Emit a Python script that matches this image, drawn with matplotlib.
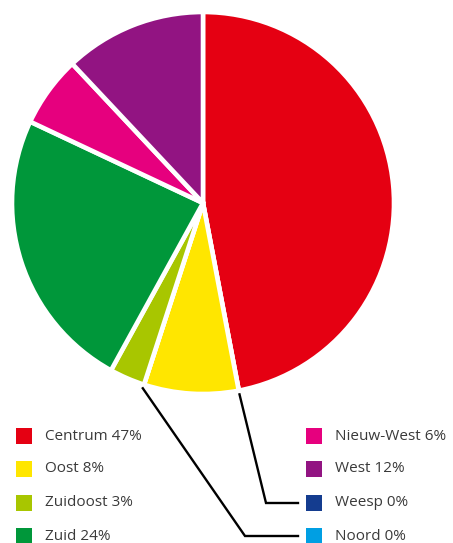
import numpy as np
import matplotlib
matplotlib.use("Agg")
from matplotlib import pyplot as plt
from matplotlib.patches import Rectangle

# data, pie order clockwise from the top
districts = ['Centrum', 'Weesp', 'Oost', 'Noord', 'Zuidoost', 'Zuid', 'Nieuw-West', 'West']
shares = [47, 0, 8, 0, 3, 24, 6, 12]
colors = ['#e50012', '#143c8f', '#ffe600', '#009fe3', '#a8c600', '#00973a', '#e6007e', '#921482']

# legend order
left_col = ['Centrum', 'Oost', 'Zuidoost', 'Zuid']
right_col = ['Nieuw-West', 'West', 'Weesp', 'Noord']

W, H = 453, 543
fig = plt.figure(figsize=(W / 100, H / 100), dpi=100)

cx, cy, r = 203, 203, 191
ax = fig.add_axes([(cx - r) / W, (H - cy - r) / H, 2 * r / W, 2 * r / H])
ax.pie(shares, colors=colors, startangle=90, counterclock=False, radius=1,
       wedgeprops=dict(edgecolor='white', linewidth=3.3))
ax.set_xlim(-1, 1)
ax.set_ylim(-1, 1)
ax.axis('off')

# overlay in pixel coords for legend and leader lines
ov = fig.add_axes([0, 0, 1, 1])
ov.set_xlim(0, W)
ov.set_ylim(H, 0)
ov.axis('off')

share = dict(zip(districts, shares))
col = dict(zip(districts, colors))
rows_y = [436, 469, 503, 536]

def legend_item(x, y, name):
    ov.add_patch(Rectangle((x, y - 8), 16, 16, color=col[name], lw=0))
    ov.text(x + 29, y, f'{name} {share[name]}%', va='center', ha='left',
            fontsize=11, color='#3a3a3a', family='Open Sans')

for y, name in zip(rows_y, left_col):
    legend_item(16, y, name)
for y, name in zip(rows_y, right_col):
    legend_item(306, y, name)

# leader lines for the empty slices
cum = np.cumsum([0] + shares)
elbow_x = {'Weesp': 266, 'Noord': 245}
for name in ['Weesp', 'Noord']:
    i = districts.index(name)
    ang = np.deg2rad(90 - cum[i] / sum(shares) * 360)
    x0 = cx + r * 1.02 * np.cos(ang)
    y0 = cy - r * 1.02 * np.sin(ang)
    y1 = rows_y[right_col.index(name)]
    ov.plot([x0, elbow_x[name], 298], [y0, y1, y1], color='black', lw=1.7,
            solid_joinstyle='miter')

fig.savefig('out.png', dpi=100)
